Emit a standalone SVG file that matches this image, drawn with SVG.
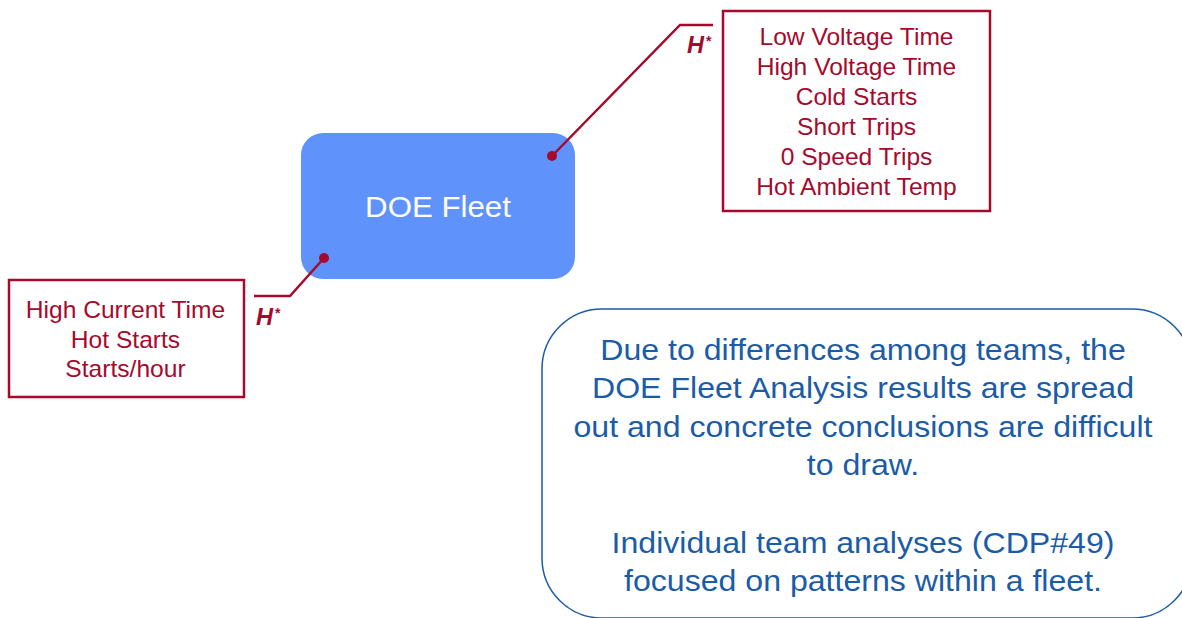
<svg xmlns="http://www.w3.org/2000/svg" width="1182" height="618" viewBox="0 0 1182 618">
<style>
.red{fill:none;stroke:#a50a2d;stroke-width:2.5}
.rt{font-family:"Liberation Sans",Arial,sans-serif;font-size:23px;fill:#a50a2d;text-anchor:middle}
.h{font-family:"Liberation Sans",Arial,sans-serif;font-size:23.5px;font-weight:bold;font-style:italic;fill:#a50a2d}
.st{font-family:"Liberation Sans",Arial,sans-serif;font-size:14px;font-weight:bold;fill:#a50a2d}
.bt{font-family:"Liberation Sans",Arial,sans-serif;font-size:30px;fill:#1b5ca8;text-anchor:middle}
</style>
<rect width="1182" height="618" fill="#fff"/>
<g id="doe-fleet">
<rect x="301" y="133" width="274" height="146" rx="22" fill="#5f93fb"/>
<text transform="translate(438,217) scale(1.06,1)" x="0" y="0" font-family="Liberation Sans,Arial,sans-serif" font-size="29.5" fill="#fff" text-anchor="middle">DOE Fleet</text>
</g>
<g id="right-box">
<rect x="723" y="11" width="267" height="200" class="red"/>
<g transform="translate(856.5,0) scale(1.07,1)">
<text class="rt" x="0" y="45">Low Voltage Time</text>
<text class="rt" x="0" y="75">High Voltage Time</text>
<text class="rt" x="0" y="105">Cold Starts</text>
<text class="rt" x="0" y="135">Short Trips</text>
<text class="rt" x="0" y="165">0 Speed Trips</text>
<text class="rt" x="0" y="195">Hot Ambient Temp</text>
</g>
</g>
<g id="left-box">
<rect x="9" y="280" width="235" height="117" class="red"/>
<g transform="translate(125.5,0) scale(1.07,1)">
<text class="rt" x="0" y="318">High Current Time</text>
<text class="rt" x="0" y="348">Hot Starts</text>
<text class="rt" x="0" y="377">Starts/hour</text>
</g>
</g>
<g id="note">
<rect x="542" y="309" width="650" height="309" rx="60" fill="#fff" stroke="#1b5ca8" stroke-width="1.5"/>
<g transform="translate(863,0) scale(1.07,1)">
<text class="bt" x="0" y="360">Due to differences among teams, the</text>
<text class="bt" x="0" y="398">DOE Fleet Analysis results are spread</text>
<text class="bt" x="0" y="437">out and concrete conclusions are difficult</text>
<text class="bt" x="0" y="475">to draw.</text>
<text class="bt" x="0" y="553">Individual team analyses (CDP#49)</text>
<text class="bt" x="0" y="591">focused on patterns within a fleet.</text>
</g>
</g>
<g id="connectors">
<polyline points="552,156 680,25 713,25" class="red"/>
<circle cx="552" cy="156" r="5" fill="#a50a2d"/>
<text class="h" x="687" y="53">H</text><text class="st" x="706" y="46">*</text>
<polyline points="324,258 290,296 254,296" class="red"/>
<circle cx="324" cy="258" r="5" fill="#a50a2d"/>
<text class="h" x="256" y="325">H</text><text class="st" x="275" y="318">*</text>
</g>
</svg>
